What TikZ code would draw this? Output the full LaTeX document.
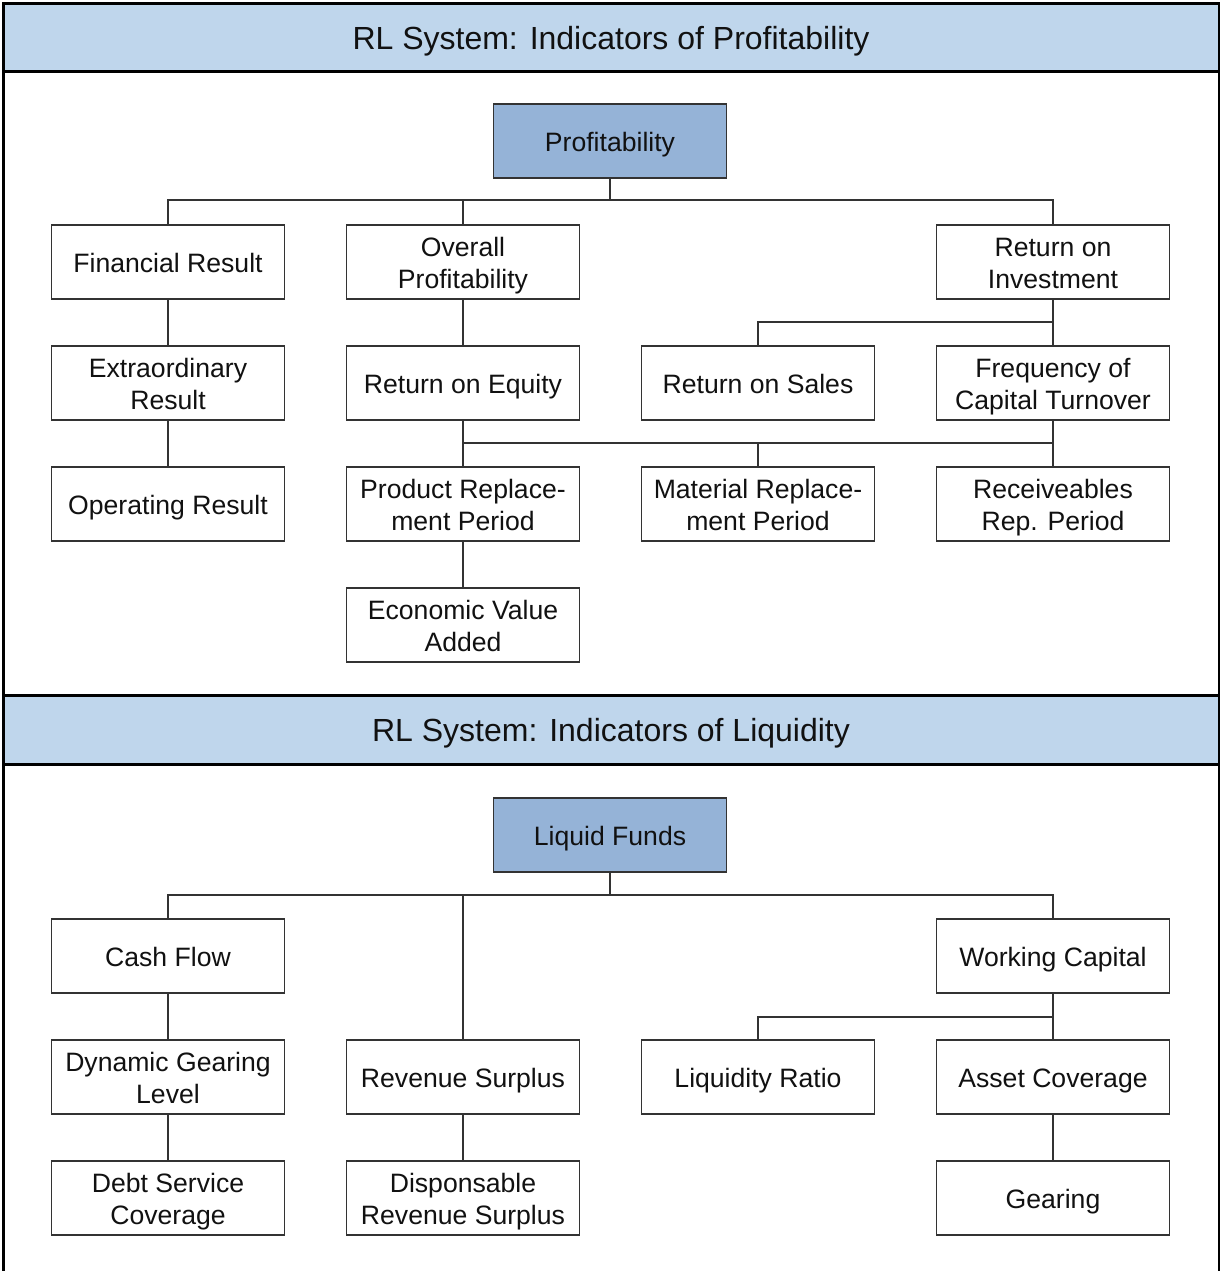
\documentclass[tikz,border=0pt]{standalone}
\usepackage{fontspec}
\setmainfont{Liberation Sans}
\definecolor{headblue}{HTML}{BFD6EC}
\definecolor{rootblue}{HTML}{95B3D7}
\definecolor{boxline}{HTML}{333333}
\definecolor{txt}{HTML}{111111}
% fixed line metrics so every label sits at the same height
\newcommand{\topstrut}{\rule{0pt}{26pt}}
\newcommand{\toptwostrut}{\rule{0pt}{58pt}}
\newcommand{\botstrut}{\rule[-6pt]{0pt}{0pt}}
\newcommand{\ttlstrut}{\rule[-4pt]{0pt}{33pt}}
\begin{document}
\begin{tikzpicture}[x=1pt,y=-1pt,
  box/.style={draw=boxline, line width=1.5pt, fill=white,
    minimum width=233pt, minimum height=74pt, inner sep=0pt,
    align=center, text=txt, font=\fontsize{26.6}{32}\selectfont,
    execute at begin node={\topstrut}, execute at end node={\botstrut}},
  two/.style={execute at begin node={\toptwostrut}},
  rootbox/.style={box, fill=rootblue},
  link/.style={draw=boxline, line width=1.5pt},
  header/.style={fill=headblue, draw=black, line width=3pt},
  title/.style={text=txt, inner sep=0pt, font=\fontsize{32}{38}\selectfont,
    execute at begin node={\ttlstrut}}
]
\useasboundingbox (0,0) rectangle (1220,1271);

% frame and section headers
\draw[black, line width=3pt] (3,4) -- (3,1271);
\draw[black, line width=1.5pt] (1219,4) -- (1219,1271);
\path[header] (3,4) rectangle (1219,72);
\node[title] (t1) at (611,38) {RL System: Indicators of Profitability};
\path[header] (3,695) rectangle (1219,764);
\node[title] (t2) at (611,730) {RL System: Indicators of Liquidity};

% ---- profitability tree ----
\node[rootbox] (prof) at (610,141) {Profitability};
\node[box] (fin) at (168,262) {Financial Result};
\node[box,two] (ovp) at (463,262) {Overall\\Profitability};
\node[box,two] (roi) at (1053,262) {Return on\\Investment};
\node[box,two] (ext) at (168,383) {Extraordinary\\Result};
\node[box] (roe) at (463,383) {Return on Equity};
\node[box] (ros) at (758,383) {Return on Sales};
\node[box,two] (fct) at (1053,383) {Frequency of\\Capital Turnover};
\node[box] (opr) at (168,504) {Operating Result};
\node[box,two] (prp) at (463,504) {Product Replace-\\ment Period};
\node[box,two] (mrp) at (758,504) {Material Replace-\\ment Period};
\node[box,two] (rrp) at (1053,504) {Receiveables\\Rep. Period};
\node[box,two] (eva) at (463,625) {Economic Value\\Added};

\coordinate (b1) at (610,200);
\coordinate (b2) at (1053,322);
\coordinate (b3) at (1053,443);
\draw[link] (prof) -- (b1);
\draw[link] (fin.north) |- (b1) -| (roi.north);
\draw[link] (ovp.north) -- (ovp.north |- b1);
\draw[link] (fin) -- (ext);
\draw[link] (ext) -- (opr);
\draw[link] (ovp) -- (roe);
\draw[link] (roe) -- (prp);
\draw[link] (prp) -- (eva);
\draw[link] (roi) -- (fct);
\draw[link] (ros.north) |- (b2);
\draw[link] (fct) -- (rrp);
\draw[link] (roe.south |- b3) -- (b3);
\draw[link] (mrp.north) -- (mrp.north |- b3);

% ---- liquidity tree ----
\node[rootbox] (lf) at (610,835) {Liquid Funds};
\node[box] (cf) at (168,956) {Cash Flow};
\node[box] (wc) at (1053,956) {Working Capital};
\node[box,two] (dgl) at (168,1077) {Dynamic Gearing\\Level};
\node[box] (rs) at (463,1077) {Revenue Surplus};
\node[box] (lr) at (758,1077) {Liquidity Ratio};
\node[box] (ac) at (1053,1077) {Asset Coverage};
\node[box,two] (dsc) at (168,1198) {Debt Service\\Coverage};
\node[box,two] (drs) at (463,1198) {Disponsable\\Revenue Surplus};
\node[box] (gear) at (1053,1198) {Gearing};

\coordinate (b4) at (610,895);
\coordinate (b5) at (1053,1017);
\draw[link] (lf) -- (b4);
\draw[link] (cf.north) |- (b4) -| (wc.north);
\draw[link] (rs.north) -- (rs.north |- b4);
\draw[link] (cf) -- (dgl);
\draw[link] (dgl) -- (dsc);
\draw[link] (rs) -- (drs);
\draw[link] (wc) -- (ac);
\draw[link] (lr.north) |- (b5);
\draw[link] (ac) -- (gear);
\end{tikzpicture}
\end{document}
